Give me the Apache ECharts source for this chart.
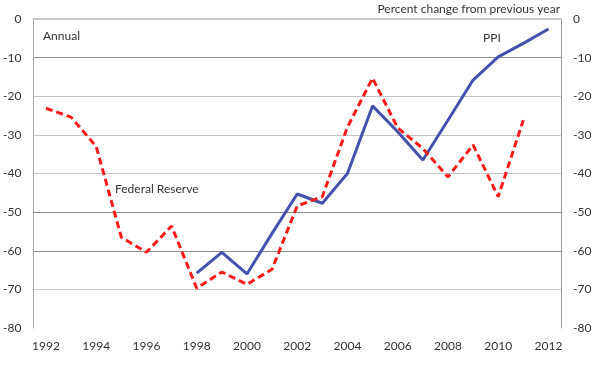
<!DOCTYPE html>
<html><head><meta charset="utf-8">
<script src="https://cdn.jsdelivr.net/npm/echarts@6/dist/echarts.min.js"></script>
<style>html,body{margin:0;padding:0;background:#fff}#c{width:600px;height:365px}</style>
</head><body><div id="c"></div>
<script>
const years = ['1992','1993','1994','1995','1996','1997','1998','1999','2000','2001','2002','2003','2004','2005','2006','2007','2008','2009','2010','2011','2012'];
const fedReserve = [-23.1,-25.4,-33,-56.5,-60.4,-53.6,-69.7,-65.5,-68.7,-64.8,-48.4,-46,-28,-15.3,-28.2,-33.5,-40.9,-32.6,-46,-26.2,null];
const ppi = [null,null,null,null,null,null,-65.8,-60.4,-66,-55.5,-45.3,-47.7,-40,-22.5,-29.2,-36.5,-26.2,-15.8,-9.8,-6.3,-2.6];
const yTicks = [0,-10,-20,-30,-40,-50,-60,-70,-80];
const solidGrid = [-10,-50,-60];
const dottedGrid = [-20,-30,-40,-70];

const font = 'Lato';
const txt = '#333';
const chart = echarts.init(document.getElementById('c'));
const gridLines = solidGrid.map(v => ({yAxis: v, lineStyle: {type: 'solid', color: '#8c8c8c', width: 1}}))
  .concat(dottedGrid.map(v => ({yAxis: v, lineStyle: {type: [1,1], color: '#8c8c8c', width: 1}})))
  .concat([{yAxis: 0, lineStyle: {type: 'solid', color: '#c8c8c8', width: 2}}]);
const yAxisCommon = {
  type: 'value', min: -80, max: 0, interval: 10,
  splitLine: {show: false}, axisTick: {show: false},
  axisLabel: {color: txt, fontFamily: font, fontSize: 12, margin: 12}
};
chart.setOption({
  animation: false,
  grid: {left: 31, right: 39, top: 19, bottom: 37},
  xAxis: {
    type: 'category', data: years, boundaryGap: true,
    axisTick: {show: false},
    axisLine: {lineStyle: {color: '#c8c8c8', width: 2}},
    axisLabel: {interval: 1, color: txt, fontFamily: font, fontSize: 12, margin: 12}
  },
  yAxis: [
    Object.assign({}, yAxisCommon, {position: 'left', axisLine: {show: true, lineStyle: {color: '#999', type: [1,1]}}}),
    Object.assign({}, yAxisCommon, {position: 'right', axisLine: {show: true, lineStyle: {color: '#999'}}})
  ],
  series: [
    {
      name: 'Federal Reserve', type: 'line', data: fedReserve, symbol: 'none',
      lineStyle: {color: '#ff1a1a', width: 3, type: [7,4]}, z: 3,
      markLine: {silent: true, symbol: 'none', label: {show: false}, data: gridLines, z: 1}
    },
    {
      name: 'PPI', type: 'line', data: ppi, symbol: 'none',
      lineStyle: {color: '#4452ad', width: 3}, z: 2
    }
  ],
  graphic: [
    {type: 'text', left: 43, top: 30, style: {text: 'Annual', fill: txt, font: '12px ' + font}},
    {type: 'text', left: 115, top: 183, style: {text: 'Federal Reserve', fill: txt, font: '12px ' + font}},
    {type: 'text', left: 483, top: 32, style: {text: 'PPI', fill: txt, font: '12px ' + font}},
    {type: 'text', right: 40, top: 3, style: {text: 'Percent change from previous year', fill: txt, font: '12px ' + font}}
  ]
});
</script></body></html>
